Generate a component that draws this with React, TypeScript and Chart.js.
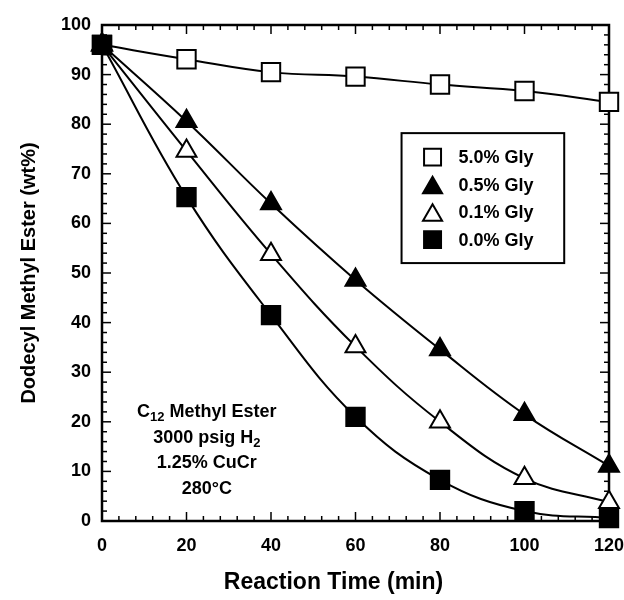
import { useEffect, useRef } from "react";
import { Chart, registerables } from "chart.js";
Chart.register(...registerables);

const times = [0, 20, 40, 60, 80, 100, 120];
const gly50 = [96, 93.1, 90.5, 89.6, 88.0, 86.7, 84.5];
const gly05 = [96, 80.6, 64.0, 48.6, 34.6, 21.5, 11.1];
const gly01 = [96, 74.6, 53.8, 35.2, 20.0, 8.6, 3.8];
const gly00 = [96, 65.3, 41.5, 21.0, 8.3, 2.0, 0.6];
const seriesLabels = ["5.0% Gly", "0.5% Gly", "0.1% Gly", "0.0% Gly"];
const xTitle = "Reaction Time (min)";
const yTitle = "Dodecyl Methyl Ester (wt%)";
const noteLines = ["C|12| Methyl Ester", "3000 psig H|2|", "1.25% CuCr", "280°C"];

const FONT = "'Liberation Sans', Arial, Helvetica, sans-serif";

type Style = { pointStyle: string; fill: boolean; radius: number };
const styles: Style[] = [
  { pointStyle: "rect", fill: false, radius: 13 },
  { pointStyle: "triangle", fill: true, radius: 11.5 },
  { pointStyle: "triangle", fill: false, radius: 11.5 },
  { pointStyle: "rect", fill: true, radius: 13 },
];

function drawMarker(ctx: CanvasRenderingContext2D, st: Style, x: number, y: number) {
  ctx.save();
  ctx.lineWidth = 2;
  ctx.strokeStyle = "#000";
  ctx.fillStyle = st.fill ? "#000" : "#fff";
  ctx.beginPath();
  if (st.pointStyle === "rect") {
    const s = Math.SQRT1_2 * st.radius;
    ctx.rect(x - s, y - s, 2 * s, 2 * s);
  } else {
    const r = st.radius;
    let a = 0;
    ctx.moveTo(x + Math.sin(a) * r, y - Math.cos(a) * r);
    a += (2 * Math.PI) / 3;
    ctx.lineTo(x + Math.sin(a) * r, y - Math.cos(a) * r);
    a += (2 * Math.PI) / 3;
    ctx.lineTo(x + Math.sin(a) * r, y - Math.cos(a) * r);
    ctx.closePath();
  }
  ctx.fill();
  ctx.stroke();
  ctx.restore();
}

const framePlugin = {
  id: "frame",
  beforeDatasetsDraw(chart: any) {
    const { ctx, chartArea: a, scales } = chart;
    const x = scales.x;
    const y = scales.y;
    ctx.save();
    ctx.strokeStyle = "#000";
    ctx.lineWidth = 1.5;
    const seg = (x1: number, y1: number, x2: number, y2: number) => {
      ctx.beginPath();
      ctx.moveTo(x1, y1);
      ctx.lineTo(x2, y2);
      ctx.stroke();
    };
    for (let v = 0; v <= 120; v += 4) {
      const px = x.getPixelForValue(v);
      const len = v % 20 === 0 ? 9 : 5;
      seg(px, a.bottom, px, a.bottom - len);
      seg(px, a.top, px, a.top + len);
    }
    for (let v = 0; v <= 100; v += 2) {
      const py = y.getPixelForValue(v);
      const len = v % 10 === 0 ? 9 : 5;
      seg(a.left, py, a.left + len, py);
      seg(a.right, py, a.right - len, py);
    }
    ctx.lineWidth = 2.5;
    ctx.strokeRect(a.left, a.top, a.right - a.left, a.bottom - a.top);
    ctx.restore();
  },
};

const overlayPlugin = {
  id: "overlay",
  afterDraw(chart: any) {
    const { ctx, scales } = chart;
    const x = scales.x;
    const y = scales.y;
    ctx.save();
    // legend box
    const bx1 = x.getPixelForValue(70.9);
    const bx2 = x.getPixelForValue(109.4);
    const by1 = y.getPixelForValue(78.2);
    const by2 = y.getPixelForValue(52.0);
    ctx.fillStyle = "#fff";
    ctx.fillRect(bx1, by1, bx2 - bx1, by2 - by1);
    ctx.lineWidth = 2;
    ctx.strokeStyle = "#000";
    ctx.strokeRect(bx1, by1, bx2 - bx1, by2 - by1);
    const order = [0, 1, 2, 3];
    ctx.font = `bold 18px ${FONT}`;
    ctx.textBaseline = "middle";
    ctx.textAlign = "left";
    order.forEach((i, k) => {
      const cy = by1 + 24 + k * 27.5;
      const isTri = styles[i].pointStyle === "triangle";
      drawMarker(ctx, { ...styles[i], radius: isTri ? 11 : 12 }, bx1 + 31, cy + (isTri ? 3 : 0));
      ctx.fillStyle = "#000";
      ctx.fillText(seriesLabels[i], bx1 + 57, cy + 1);
    });
    // notes
    const cx = x.getPixelForValue(24.8);
    let ly = y.getPixelForValue(22.0);
    const big = `bold 18px ${FONT}`;
    const small = `bold 13px ${FONT}`;
    noteLines.forEach((line) => {
      const parts = line.split("|");
      let w = 0;
      parts.forEach((p, j) => {
        ctx.font = j % 2 === 1 ? small : big;
        w += ctx.measureText(p).width;
      });
      let px = cx - w / 2;
      parts.forEach((p, j) => {
        const sub = j % 2 === 1;
        ctx.font = sub ? small : big;
        ctx.fillStyle = "#000";
        ctx.textAlign = "left";
        ctx.fillText(p, px, ly + (sub ? 6 : 0));
        px += ctx.measureText(p).width;
      });
      ly += 25.7;
    });
    // x-axis title (offset left of the plot centre, as in the original)
    ctx.font = `bold 23px ${FONT}`;
    ctx.textAlign = "center";
    ctx.textBaseline = "middle";
    ctx.fillStyle = "#000";
    ctx.fillText(xTitle, x.getPixelForValue(54.8), chart.height - 17);
    ctx.restore();
  },
};

export default function App() {
  const ref = useRef<HTMLCanvasElement | null>(null);
  useEffect(() => {
    if (!ref.current) return;
    const series = [gly50, gly05, gly01, gly00];
    const drawOrder = [3, 2, 1, 0];
    const datasets = drawOrder.map((i) => ({
      label: seriesLabels[i],
      data: times.map((t, k) => ({ x: t, y: series[i][k] })),
      borderColor: "#000",
      borderWidth: 2,
      tension: 0.4,
      pointStyle: styles[i].pointStyle,
      pointRadius: styles[i].radius,
      pointHoverRadius: styles[i].radius,
      pointBackgroundColor: styles[i].fill ? "#000" : "#fff",
      pointBorderColor: "#000",
      pointBorderWidth: 2,
      clip: false as any,
      fill: false,
    }));
    const chart = new Chart(ref.current, {
      type: "line",
      data: { datasets },
      options: {
        animation: false,
        responsive: false,
        maintainAspectRatio: false,
        layout: { padding: { top: 25, right: 14, left: 10, bottom: 3 } },
        plugins: { legend: { display: false }, tooltip: { enabled: false } },
        scales: {
          x: {
            type: "linear",
            min: 0,
            max: 120,
            grid: { display: false, drawTicks: false },
            border: { display: false },
            afterFit: (s: any) => {
              s.height = 76;
              s.paddingLeft = 0;
              s.paddingRight = 0;
            },
            ticks: {
              stepSize: 20,
              padding: 14,
              color: "#000",
              font: { family: FONT, size: 18, weight: "bold" },
              maxRotation: 0,
            },
            title: { display: false, text: xTitle },
          },
          y: {
            type: "linear",
            min: 0,
            max: 100,
            grid: { display: false, drawTicks: false },
            border: { display: false },
            afterFit: (s: any) => {
              s.width = 92;
              s.paddingTop = 0;
              s.paddingBottom = 0;
            },
            ticks: {
              stepSize: 10,
              padding: 11,
              color: "#000",
              font: { family: FONT, size: 18, weight: "bold" },
            },
            title: {
              display: true,
              text: yTitle,
              color: "#000",
              font: { family: FONT, size: 20, weight: "bold" },
              padding: { top: 7, bottom: 0 },
            },
          },
        },
      },
      plugins: [framePlugin, overlayPlugin],
    });
    return () => chart.destroy();
  }, []);
  return (
    <div style={{ position: "fixed", left: 0, top: 0, width: 624, height: 600, background: "#fff" }}>
      <canvas ref={ref} width={624} height={600} style={{ width: 624, height: 600 }} />
    </div>
  );
}
